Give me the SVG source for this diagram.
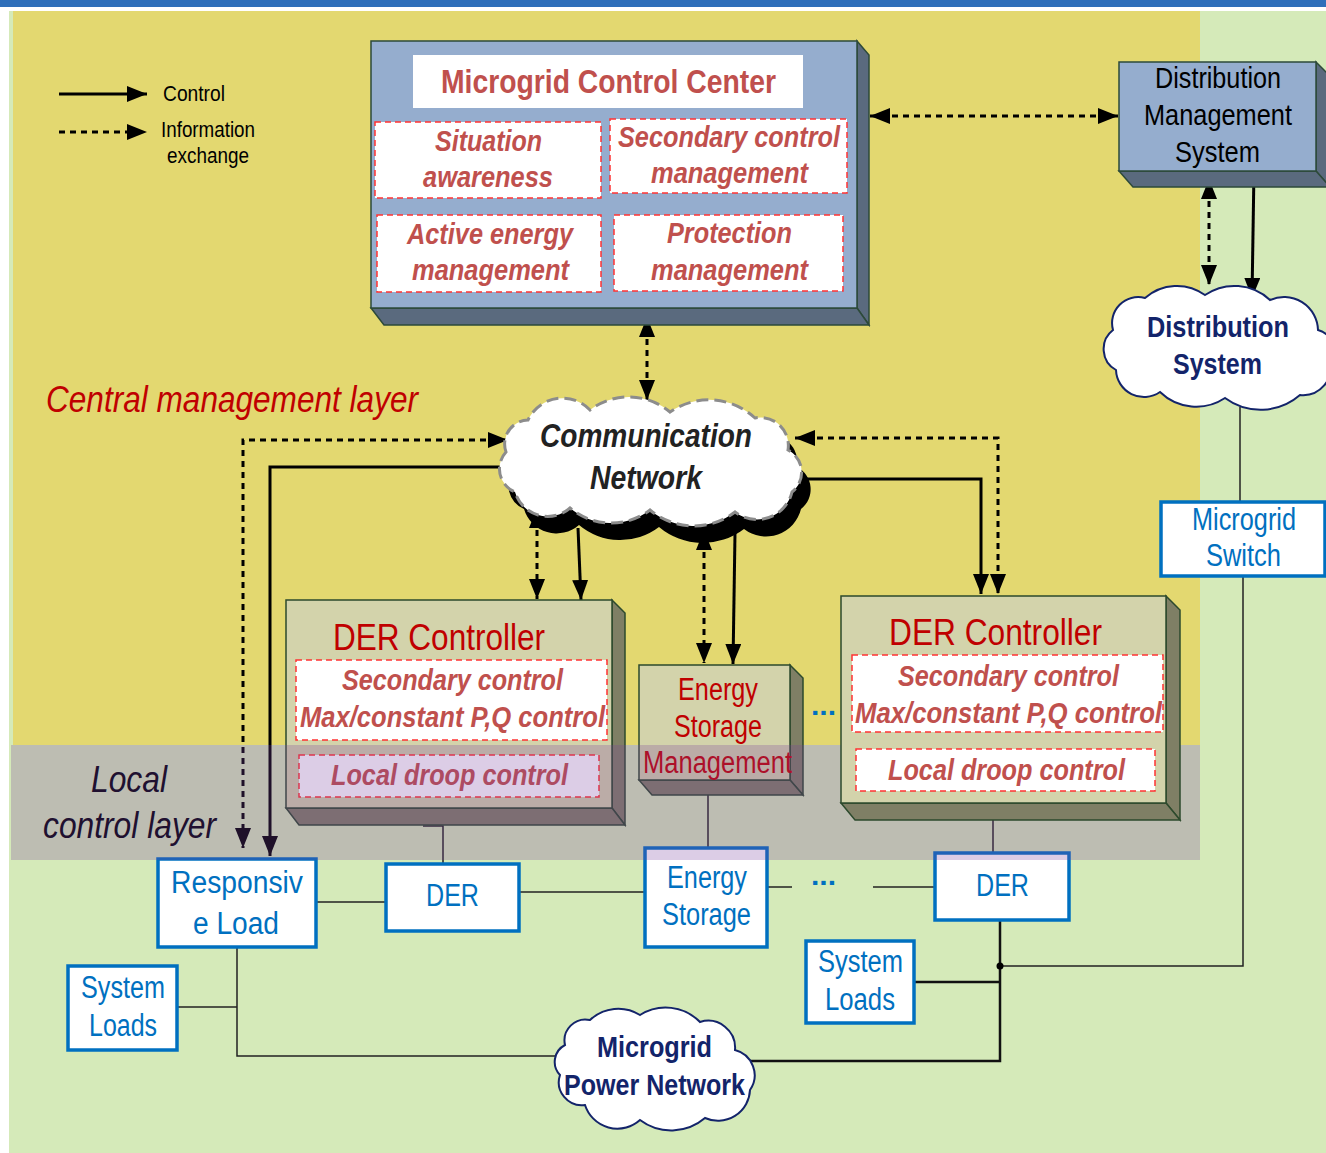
<svg xmlns="http://www.w3.org/2000/svg" width="1326" height="1153" viewBox="0 0 1326 1153">
<style>
text{font-family:"Liberation Sans",Arial,sans-serif}
.mt{font-weight:bold;fill:#c0504d;font-size:34px}
.sb{font-weight:bold;font-style:italic;fill:#c0504d;font-size:30px}
.ds{font-weight:bold;font-style:italic;fill:#c0504d;font-size:29px}
.dt{fill:#c00000;font-size:37px}
.et{fill:#c00000;font-size:31px}
.bt{fill:#0070c0;font-size:31px}
.kt{fill:#000;font-size:29px}
.lg{fill:#000;font-size:22px}
.nv{fill:#13246a;font-weight:bold;font-size:30px}
.cn{fill:#222;font-weight:bold;font-style:italic;font-size:33px}
.dots{fill:#0070c0;font-size:28px;font-weight:bold}
.front{fill:#95adce;stroke:#2d4a3a;stroke-width:1.5}
.side{fill:#5a6a7e;stroke:#2d4a3a;stroke-width:1.5}
.kfront{fill:#d3d3ab;stroke:#2d4a2d;stroke-width:1.5}
.kside{fill:#7f7f65;stroke:#2d4a2d;stroke-width:1.5}
.sub{fill:#fff;stroke:#ff3333;stroke-width:1.5;stroke-dasharray:6 4}
.bx{fill:#fff;stroke:#0070c0;stroke-width:3.5}
.ctl{fill:none;stroke:#000;stroke-width:3}
.inf{fill:none;stroke:#000;stroke-width:3;stroke-dasharray:6 5}
.pw{fill:none;stroke:#222;stroke-width:1.5}
.pwb{fill:none;stroke:#111;stroke-width:2.5}
.cloud{fill:#fff;stroke:#13246a;stroke-width:2}
</style>
<defs>
<marker id="ah" markerWidth="20" markerHeight="16" refX="20" refY="8" orient="auto-start-reverse" markerUnits="userSpaceOnUse">
<path d="M0,0 L20,8 L0,16 z" fill="#000"/>
</marker>
</defs>

<!-- backgrounds -->
<rect x="0" y="0" width="1326" height="1153" fill="#fff"/>
<rect x="0" y="0" width="1326" height="7" fill="#2f6fba"/>
<rect x="9" y="11" width="1317" height="1142" fill="#d5eab9"/>
<rect x="13" y="11" width="1187" height="734" fill="#e3d870"/>

<text x="46" y="412" fill="#c00000" font-size="37" font-style="italic" textLength="372" lengthAdjust="spacingAndGlyphs">Central management layer</text>

<!-- legend -->
<g id="legend">
<line x1="59" y1="94" x2="147" y2="94" class="ctl" marker-end="url(#ah)"/>
<line x1="59" y1="132" x2="147" y2="132" class="inf" marker-end="url(#ah)"/>
<text x="163" y="101" class="lg" textLength="62" lengthAdjust="spacingAndGlyphs">Control</text>
<text x="161" y="137" class="lg" textLength="94" lengthAdjust="spacingAndGlyphs">Information</text>
<text x="167" y="163" class="lg" textLength="82" lengthAdjust="spacingAndGlyphs">exchange</text>
</g>

<!-- connectors -->
<g id="connectors">
<line x1="870" y1="116" x2="1118" y2="116" class="inf" marker-start="url(#ah)" marker-end="url(#ah)"/>
<line x1="1209" y1="179" x2="1209" y2="285" class="inf" marker-start="url(#ah)" marker-end="url(#ah)"/>
<line x1="1254" y1="170" x2="1252" y2="298" class="ctl" marker-end="url(#ah)"/>
<line x1="647" y1="317" x2="647" y2="400" class="inf" marker-start="url(#ah)" marker-end="url(#ah)"/>
<path d="M508,440 L243,440 L243,848" class="inf" marker-start="url(#ah)" marker-end="url(#ah)"/>
<path d="M500,467 L270,467 L270,856" class="ctl" marker-end="url(#ah)"/>
<path d="M795,438 L998,438 L998,594" class="inf" marker-start="url(#ah)" marker-end="url(#ah)"/>
<path d="M806,479 L981,479 L981,594" class="ctl" marker-end="url(#ah)"/>
<line x1="537" y1="508" x2="537" y2="599" class="inf" marker-start="url(#ah)" marker-end="url(#ah)"/>
<line x1="578" y1="528" x2="581" y2="600" class="ctl" marker-end="url(#ah)"/>
<line x1="704" y1="530" x2="704" y2="663" class="inf" marker-start="url(#ah)" marker-end="url(#ah)"/>
<line x1="735" y1="533" x2="733" y2="664" class="ctl" marker-end="url(#ah)"/>
<!-- power lines -->
<path d="M423,826 L443,826 L443,864" class="pw"/>
<path d="M708,795 L708,848" class="pw"/>
<path d="M993,820 L993,853" class="pw"/>
<path d="M316,902 L386,902" class="pw"/>
<path d="M519,892 L645,892" class="pw"/>
<path d="M767,887 L792,887" class="pw"/>
<path d="M873,887 L935,887" class="pw"/>
<path d="M1000,920 L1000,1061 L750,1061" class="pwb"/>
<path d="M914,982 L1000,982" class="pwb"/>
<path d="M1000,966 L1243,966 L1243,576" class="pw"/>
<path d="M1240,407 L1240,502" class="pw"/>
<path d="M237,947 L237,1056 L560,1056" class="pw"/>
<path d="M177,1007 L237,1007" class="pw"/>
<circle cx="1000" cy="966" r="3.5" fill="#000"/>
</g>

<!-- Microgrid Control Center -->
<g id="mcc">
<polygon points="857,41 869,55 869,325 857,308" class="side"/>
<polygon points="371,308 857,308 869,325 384,325" class="side"/>
<rect x="371" y="41" width="486" height="267" class="front"/>
<rect x="413" y="55" width="390" height="53" fill="#fff"/>
<text x="441" y="93" class="mt" textLength="335" lengthAdjust="spacingAndGlyphs">Microgrid Control Center</text>
<rect x="375" y="122" width="226" height="76" class="sub"/>
<text x="435" y="151" class="sb" textLength="107" lengthAdjust="spacingAndGlyphs">Situation</text>
<text x="423" y="187" class="sb" textLength="130" lengthAdjust="spacingAndGlyphs">awareness</text>
<rect x="610" y="119" width="237" height="74" class="sub"/>
<text x="618" y="147" class="sb" textLength="222" lengthAdjust="spacingAndGlyphs">Secondary control</text>
<text x="651" y="183" class="sb" textLength="157" lengthAdjust="spacingAndGlyphs">management</text>
<rect x="377" y="215" width="224" height="77" class="sub"/>
<text x="407" y="244" class="sb" textLength="166" lengthAdjust="spacingAndGlyphs">Active energy</text>
<text x="412" y="280" class="sb" textLength="157" lengthAdjust="spacingAndGlyphs">management</text>
<rect x="614" y="215" width="229" height="76" class="sub"/>
<text x="667" y="243" class="sb" textLength="125" lengthAdjust="spacingAndGlyphs">Protection</text>
<text x="651" y="280" class="sb" textLength="157" lengthAdjust="spacingAndGlyphs">management</text>
</g>

<!-- Distribution Management System -->
<g id="dms">
<polygon points="1316,62 1330,76 1330,187 1316,171" class="side"/>
<polygon points="1119,171 1316,171 1330,187 1133,187" class="side"/>
<rect x="1119" y="62" width="197" height="109" class="front"/>
<text x="1155" y="88" class="kt" textLength="126" lengthAdjust="spacingAndGlyphs">Distribution</text>
<text x="1144" y="125" class="kt" textLength="148" lengthAdjust="spacingAndGlyphs">Management</text>
<text x="1175" y="162" class="kt" textLength="85" lengthAdjust="spacingAndGlyphs">System</text>
</g>

<!-- Distribution System cloud -->
<g id="dist-system">
<path class="cloud" d="M1113,330 A26,26 0 0 1 1145,298 A48,48 0 0 1 1205,295 A52,52 0 0 1 1270,300 A34,34 0 0 1 1318,330 A20,20 0 0 1 1330,360 A28,28 0 0 1 1300,395 A60,60 0 0 1 1225,398 A52,52 0 0 1 1160,392 A28,28 0 0 1 1116,370 A24,24 0 0 1 1113,330 Z"/>
<text x="1147" y="337" class="nv" textLength="142" lengthAdjust="spacingAndGlyphs">Distribution</text>
<text x="1173" y="374" class="nv" textLength="89" lengthAdjust="spacingAndGlyphs">System</text>
</g>

<!-- Communication Network cloud -->
<g id="comm-network">
<path transform="translate(9,17)" fill="#000" d="M506,452 A24,24 0 0 1 528,420 A38,38 0 0 1 590,410 A64,64 0 0 1 670,412 A68,68 0 0 1 755,418 A28,28 0 0 1 788,450 A25,25 0 0 1 792,492 A36,36 0 0 1 735,512 A68,68 0 0 1 650,510 A64,64 0 0 1 570,508 A34,34 0 0 1 515,492 A25,25 0 0 1 506,452 Z"/>
<path fill="#fff" stroke="#8c8c8c" stroke-width="3" stroke-dasharray="12 6" d="M506,452 A24,24 0 0 1 528,420 A38,38 0 0 1 590,410 A64,64 0 0 1 670,412 A68,68 0 0 1 755,418 A28,28 0 0 1 788,450 A25,25 0 0 1 792,492 A36,36 0 0 1 735,512 A68,68 0 0 1 650,510 A64,64 0 0 1 570,508 A34,34 0 0 1 515,492 A25,25 0 0 1 506,452 Z"/>
<text x="540" y="447" class="cn" textLength="212" lengthAdjust="spacingAndGlyphs">Communication</text>
<text x="590" y="489" class="cn" textLength="112" lengthAdjust="spacingAndGlyphs">Network</text>
</g>

<!-- Microgrid Switch -->
<g id="microgrid-switch">
<rect x="1161" y="502" width="164" height="74" class="bx"/>
<text x="1192" y="530" class="bt" textLength="104" lengthAdjust="spacingAndGlyphs">Microgrid</text>
<text x="1206" y="566" class="bt" textLength="75" lengthAdjust="spacingAndGlyphs">Switch</text>
</g>

<!-- Left DER Controller -->
<g id="der-controller-1">
<polygon points="612,600 625,613 625,825 612,808" class="kside"/>
<polygon points="286,808 612,808 625,825 299,825" class="kside"/>
<rect x="286" y="600" width="326" height="208" class="kfront"/>
<text x="333" y="650" class="dt" textLength="212" lengthAdjust="spacingAndGlyphs">DER Controller</text>
<rect x="296" y="660" width="311" height="80" class="sub"/>
<text x="342" y="690" class="ds" textLength="221" lengthAdjust="spacingAndGlyphs">Secondary control</text>
<text x="300" y="727" class="ds" textLength="305" lengthAdjust="spacingAndGlyphs">Max/constant P,Q control</text>
<rect x="299" y="755" width="300" height="42" class="sub"/>
<text x="331" y="785" class="ds" textLength="237" lengthAdjust="spacingAndGlyphs">Local droop control</text>
</g>

<!-- Energy Storage Management -->
<g id="esm">
<polygon points="790,665 803,678 803,795 790,780" class="kside"/>
<polygon points="639,780 790,780 803,795 652,795" class="kside"/>
<rect x="639" y="665" width="151" height="115" class="kfront"/>
<text x="678" y="700" class="et" textLength="80" lengthAdjust="spacingAndGlyphs">Energy</text>
<text x="674" y="737" class="et" textLength="88" lengthAdjust="spacingAndGlyphs">Storage</text>
<text x="643" y="773" class="et" textLength="149" lengthAdjust="spacingAndGlyphs">Management</text>
</g>
<text x="811" y="715" class="dots" textLength="25" lengthAdjust="spacingAndGlyphs">...</text>

<!-- bottom nodes -->
<g id="responsive-load">
<rect x="158" y="859" width="158" height="88" class="bx"/>
<text x="171" y="893" class="bt" textLength="132" lengthAdjust="spacingAndGlyphs">Responsiv</text>
<text x="193" y="934" class="bt" textLength="86" lengthAdjust="spacingAndGlyphs">e Load</text>
</g>
<g id="der-1">
<rect x="386" y="864" width="133" height="67" class="bx"/>
<text x="426" y="906" class="bt" textLength="53" lengthAdjust="spacingAndGlyphs">DER</text>
</g>
<g id="energy-storage">
<rect x="645" y="848" width="122" height="99" class="bx"/>
<text x="667" y="888" class="bt" textLength="80" lengthAdjust="spacingAndGlyphs">Energy</text>
<text x="662" y="925" class="bt" textLength="89" lengthAdjust="spacingAndGlyphs">Storage</text>
</g>
<text x="811" y="885" class="dots" textLength="25" lengthAdjust="spacingAndGlyphs">...</text>
<g id="der-2">
<rect x="935" y="853" width="134" height="67" class="bx"/>
<text x="976" y="896" class="bt" textLength="53" lengthAdjust="spacingAndGlyphs">DER</text>
</g>
<g id="system-loads-1">
<rect x="68" y="966" width="109" height="84" class="bx"/>
<text x="81" y="998" class="bt" textLength="84" lengthAdjust="spacingAndGlyphs">System</text>
<text x="89" y="1036" class="bt" textLength="68" lengthAdjust="spacingAndGlyphs">Loads</text>
</g>
<g id="system-loads-2">
<rect x="806" y="941" width="108" height="82" class="bx"/>
<text x="818" y="972" class="bt" textLength="85" lengthAdjust="spacingAndGlyphs">System</text>
<text x="825" y="1010" class="bt" textLength="70" lengthAdjust="spacingAndGlyphs">Loads</text>
</g>
<g id="microgrid-power-network">
<path class="cloud" d="M565,1045 A21,21 0 0 1 590,1020 A41,41 0 0 1 640,1015 A48,48 0 0 1 700,1022 A27,27 0 0 1 735,1050 A26,26 0 0 1 750,1090 A32,32 0 0 1 705,1118 A52,52 0 0 1 640,1120 A34,34 0 0 1 585,1105 A23,23 0 0 1 560,1075 A19,19 0 0 1 565,1045 Z"/>
<text x="597" y="1057" class="nv" textLength="115" lengthAdjust="spacingAndGlyphs">Microgrid</text>
<text x="564" y="1095" class="nv" textLength="181" lengthAdjust="spacingAndGlyphs">Power Network</text>
</g>

<!-- local control layer band (translucent overlay) -->
<rect x="11" y="745" width="1189" height="115" fill="#763c9d" fill-opacity="0.26"/>
<text x="91" y="792" fill="#201030" font-size="37" font-style="italic" textLength="76" lengthAdjust="spacingAndGlyphs">Local</text>
<text x="43" y="838" fill="#201030" font-size="37" font-style="italic" textLength="173" lengthAdjust="spacingAndGlyphs">control layer</text>

<!-- Right DER Controller -->
<g id="der-controller-2">
<polygon points="1166,596 1180,610 1180,820 1166,803" class="kside"/>
<polygon points="841,803 1166,803 1180,820 855,820" class="kside"/>
<rect x="841" y="596" width="325" height="207" class="kfront"/>
<text x="889" y="645" class="dt" textLength="213" lengthAdjust="spacingAndGlyphs">DER Controller</text>
<rect x="852" y="655" width="311" height="77" class="sub"/>
<text x="898" y="686" class="ds" textLength="221" lengthAdjust="spacingAndGlyphs">Secondary control</text>
<text x="855" y="723" class="ds" textLength="307" lengthAdjust="spacingAndGlyphs">Max/constant P,Q control</text>
<rect x="856" y="749" width="299" height="42" class="sub"/>
<text x="888" y="780" class="ds" textLength="237" lengthAdjust="spacingAndGlyphs">Local droop control</text>
</g>
</svg>
